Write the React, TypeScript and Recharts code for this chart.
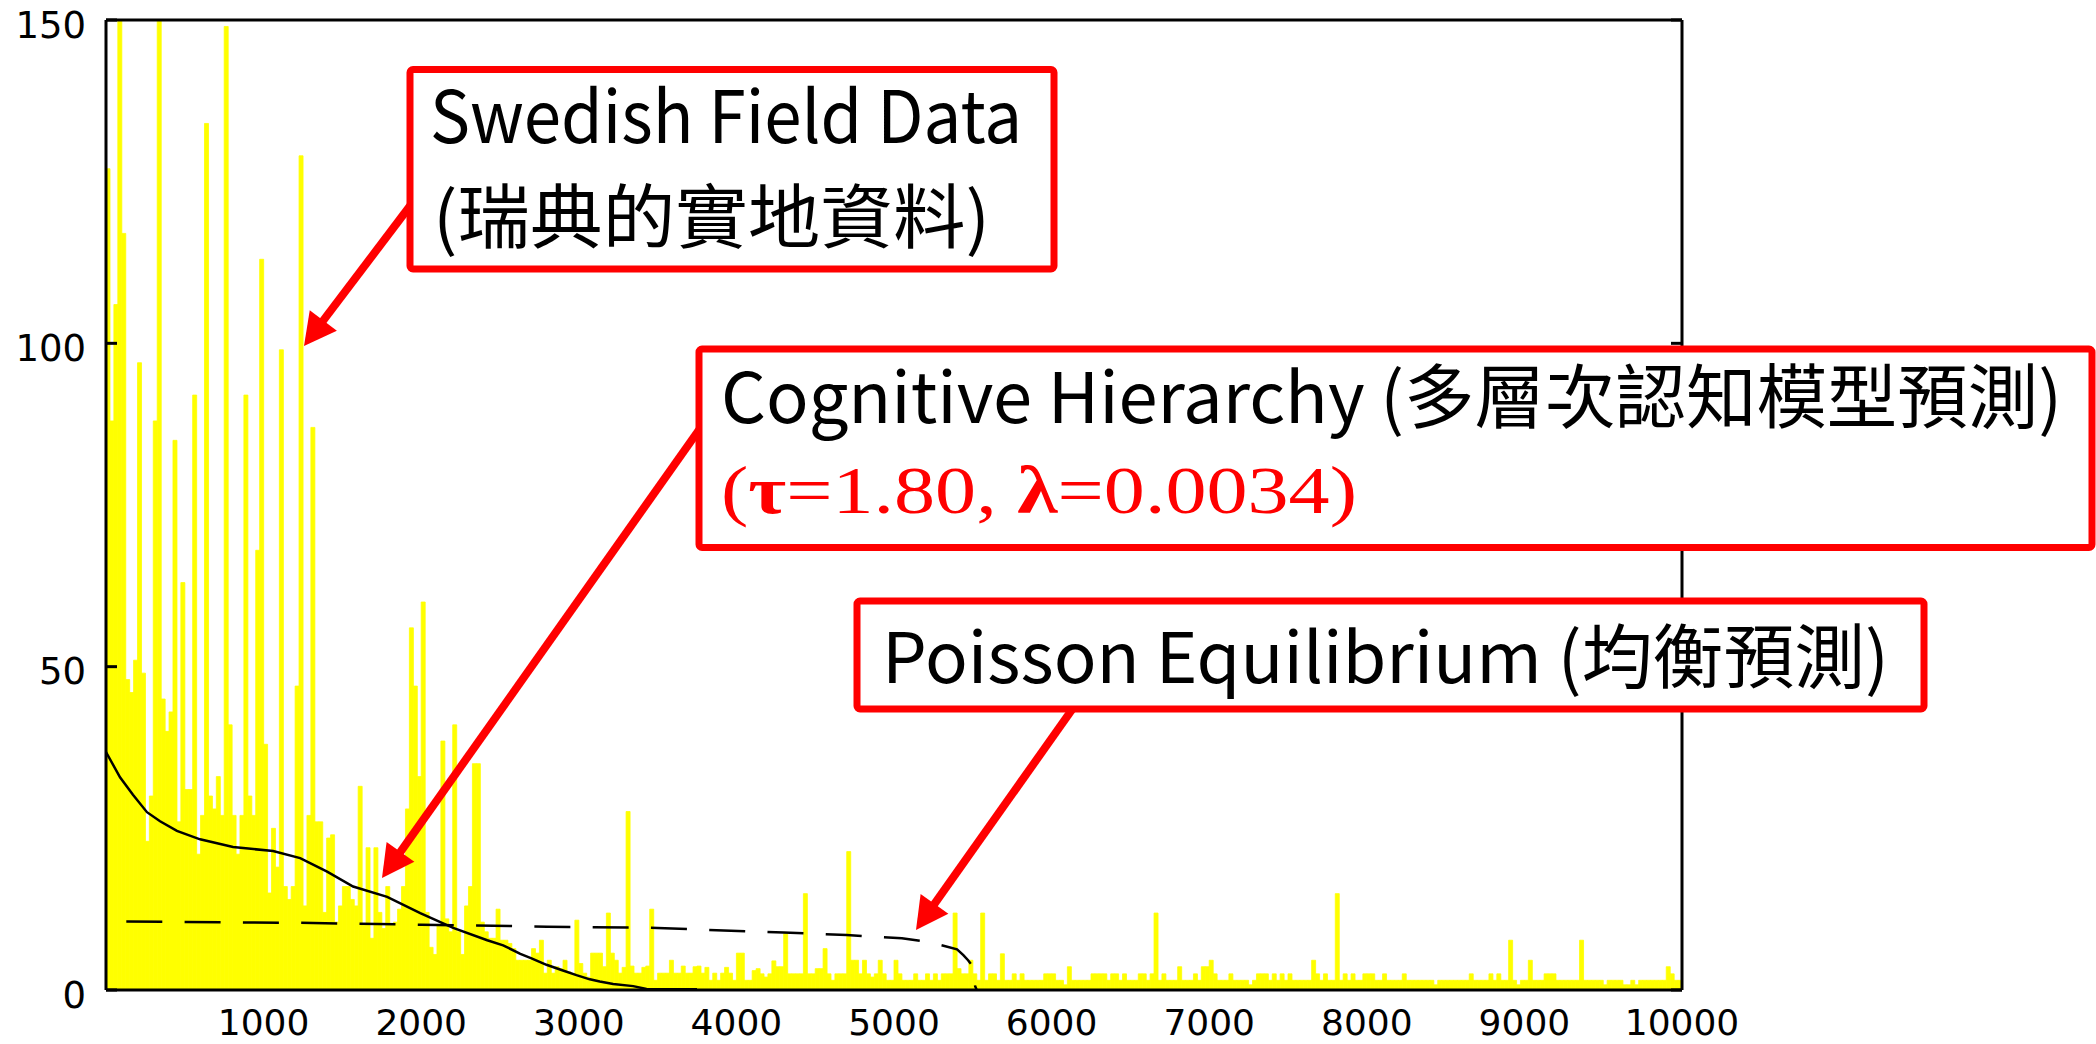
import React from 'react';
import { ComposedChart, Bar, Line, XAxis, YAxis } from 'recharts';

// ---------------- data ----------------
const BIN_WIDTH = 25;

// Swedish field data: count per 25-wide bin, 0 .. 10000
const fieldCounts: number[] = [
  127, 88, 106, 150, 117, 48, 46, 51, 97, 49,
  23, 30, 88, 150, 45, 40, 43, 85, 26, 63,
  31, 31, 92, 21, 27, 134, 30, 28, 33, 27,
  149, 41, 27, 21, 27, 92, 30, 27, 68, 113,
  38, 15, 25, 19, 99, 16, 14, 16, 47, 129,
  13, 27, 87, 26, 26, 12, 23.5, 24, 10.5, 13,
  16, 16, 14, 13, 31.5, 10, 22, 8, 22, 12,
  9.5, 16, 10, 10.5, 12.5, 16, 28, 56, 47, 33,
  60, 12, 6.6, 5.5, 10, 38.5, 11, 9, 41, 9,
  5.5, 13, 16, 35, 35, 10.5, 9, 8, 8, 12.5,
  7.7, 7.7, 7.2, 6.4, 4.6, 4.6, 4.6, 4.6, 6.4, 5.7,
  7.7, 2.6, 4.6, 2.6, 3.6, 3.3, 4.6, 2.8, 2.4, 10.8,
  4.1, 2.6, 2, 5.7, 5.7, 5.7, 3.6, 11.9, 5.7, 4.6,
  2.6, 3.5, 27.6, 3.7, 2.6, 2.6, 3.5, 3.7, 12.5, 1.5,
  2.6, 2.6, 2.6, 4.6, 2.6, 2.6, 3.7, 2.6, 2.6, 3.6,
  3.7, 2.6, 3.5, 1.5, 2.6, 1.5, 2.6, 3.5, 2.6, 1.5,
  5.7, 5.7, 1.5, 1.5, 3, 3.3, 2.5, 2, 2.5, 4.5,
  3.6, 3.6, 8.7, 2.5, 2.5, 2.5, 2.5, 14.9, 2.5, 2.5,
  3.3, 3.3, 6.4, 2.5, 1.5, 2.5, 2.5, 2.5, 21.4, 4.6,
  4.6, 2.5, 4.6, 2.5, 2, 2.5, 4.6, 2.5, 1.5, 1.5,
  4.6, 2.5, 1.5, 1.5, 1.5, 2.5, 1.5, 1.5, 2.5, 1.5,
  2.5, 1.5, 2.5, 2.5, 2.5, 11.9, 3.3, 2.5, 2.5, 4.6,
  2.5, 1.5, 11.9, 1.5, 2.5, 2.5, 1.5, 5.6, 1.5, 1.5,
  2.5, 1.5, 2.5, 1.5, 1.5, 1.5, 1.5, 1.5, 2.5, 2.5,
  2.5, 1.5, 1.5, 0.8, 3.6, 1.5, 1.5, 1.5, 1.5, 1.5,
  2.5, 2.5, 2.5, 2.5, 1.5, 2.5, 2.5, 1.5, 2.5, 1.5,
  1.5, 1.5, 2.5, 2.5, 1.5, 2.5, 11.9, 1.5, 2.5, 1.5,
  1.5, 1.5, 3.6, 1.5, 1.5, 1.5, 2.5, 1.5, 3.6, 3.6,
  4.6, 2.5, 1.5, 1.5, 1.5, 2.5, 1.5, 1.5, 1.5, 1.5,
  0.8, 1.5, 2.5, 2.5, 2.5, 1.5, 2.5, 1.5, 2.5, 1.5,
  2.5, 1.5, 1.5, 1.5, 1.5, 1.5, 4.6, 2.5, 1.5, 2.5,
  1.5, 1.5, 14.9, 1.5, 2.5, 1.5, 2.5, 1.5, 1.5, 2.5,
  2.5, 2.5, 1.5, 1.5, 2.5, 1.5, 1.5, 1.5, 1.5, 2.5,
  1.5, 1.5, 1.5, 1.5, 1.5, 1.5, 1.5, 0.8, 1.5, 1.5,
  1.5, 1.5, 1.5, 1.5, 1.5, 1.5, 2.5, 1.5, 1.5, 1.5,
  1.5, 2.5, 1.5, 2.5, 1.5, 1.5, 7.7, 1.5, 0.8, 1.5,
  1.5, 4.6, 1.5, 1.5, 1.5, 2.5, 2.5, 2.5, 1.5, 1.5,
  1.5, 1.5, 1.5, 1.5, 7.7, 1.5, 1.5, 1.5, 1.5, 1.5,
  0.8, 1.5, 1.5, 1.5, 1.5, 0.8, 0.8, 1.5, 0.8, 1.5,
  1.5, 1.5, 1.5, 1.5, 1.5, 1.5, 3.6, 2.5, 1.5, 1.5,
];

// Cognitive hierarchy prediction (solid line)
const hierarchyX = [0, 89, 171, 260, 343, 450, 597, 806, 1060, 1232, 1403, 1568, 1784, 1994, 2203, 2419, 2520, 2629, 2700, 2795, 2890, 2985, 3070, 3133, 3218, 3345, 3430, 3750];
const hierarchyY = [36.8, 32.9, 30.2, 27.5, 26.1, 24.6, 23.3, 22.1, 21.5, 20.4, 18.3, 16.0, 14.4, 11.9, 9.6, 7.7, 6.9, 5.6, 4.9, 3.9, 3.1, 2.3, 1.65, 1.3, 0.93, 0.6, 0.15, 0.1];

// Poisson equilibrium prediction (dashed line)
const poissonX = [0, 1200, 2000, 2800, 3500, 3800, 4300, 4700, 5050, 5200, 5320, 5400, 5440, 5470, 5495, 5515, 5525];
const poissonY = [10.6, 10.4, 10.1, 9.8, 9.6, 9.3, 8.9, 8.5, 8.0, 7.5, 6.8, 6.3, 5.4, 4.6, 3.8, 0.6, 0];

const xTickValues = [1000, 2000, 3000, 4000, 5000, 6000, 7000, 8000, 9000, 10000];
const yTickValues = [0, 50, 100, 150];

const histogram = fieldCounts.map((v, i) => ({ bin: i * BIN_WIDTH + BIN_WIDTH / 2, v }));
const hierarchy = hierarchyX.map((x, i) => ({ x, y: hierarchyY[i] }));
const poisson = poissonX.map((x, i) => ({ x, y: poissonY[i] }));

// ---------------- layout ----------------
const W = 2096;
const H = 1044;
const TICK_FONT = "'DejaVu Sans', 'Liberation Sans', sans-serif";
const ANNO_FONT = "'Noto Sans CJK TC', 'Noto Sans', sans-serif";
const SERIF_FONT = "'Liberation Serif', 'DejaVu Serif', serif";
const RED = '#ff0000';
const YELLOW = '#ffff00';

const LeftTick = (props: any) => {
  const { x, y, payload } = props;
  return (
    <g>
      <text x={x} y={y + 17.5} textAnchor="end" fontFamily={TICK_FONT} fontSize={37} fill="#000">
        {payload.value}
      </text>
      <line x1={x + 20} x2={x + 31} y1={y} y2={y} stroke="#000" strokeWidth={3} />
    </g>
  );
};

const BottomTick = (props: any) => {
  const { x, y, payload } = props;
  return (
    <text x={x} y={y + 45} textAnchor="middle" fontFamily={TICK_FONT} fontSize={36} fill="#000">
      {payload.value}
    </text>
  );
};

const TopTick = (props: any) => {
  const { x, y } = props;
  return <line x1={x} x2={x} y1={y} y2={y + 11} stroke="#000" strokeWidth={3} />;
};

const RightTick = (props: any) => {
  const { x, y } = props;
  return <line x1={x - 11} x2={x} y1={y} y2={y} stroke="#000" strokeWidth={3} />;
};

function Arrow({ from, to }: { from: [number, number]; to: [number, number] }) {
  const dx = to[0] - from[0];
  const dy = to[1] - from[1];
  const len = Math.hypot(dx, dy);
  const ux = dx / len;
  const uy = dy / len;
  const L = 32;
  const HW = 17;
  const bx = to[0] - ux * L;
  const by = to[1] - uy * L;
  const px = -uy;
  const py = ux;
  const pts = `${to[0]},${to[1]} ${bx + px * HW},${by + py * HW} ${bx - px * HW},${by - py * HW}`;
  return (
    <g>
      <line x1={from[0]} y1={from[1]} x2={bx + ux * 4} y2={by + uy * 4} stroke={RED} strokeWidth={8} />
      <polygon points={pts} fill={RED} />
    </g>
  );
}

const axisLineStyle = { stroke: '#000', strokeWidth: 3 };

export default function App() {
  return (
    <div style={{ position: 'absolute', left: 0, top: 0, width: W, height: H, background: '#fff' }}>
      <ComposedChart
        width={W}
        height={H}
        data={histogram}
        margin={{ top: 19, right: 413, bottom: 14, left: 6 }}
        barCategoryGap={0}
        barGap={0}
      >
        <XAxis
          dataKey="x"
          type="number"
          domain={[0, 10000]}
          ticks={xTickValues}
          interval={0}
          allowDataOverflow
          height={40}
          tickSize={0}
          tickMargin={0}
          tick={BottomTick}
          axisLine={axisLineStyle}
          tickLine={false}
        />
        <XAxis xAxisId="bins" dataKey="bin" type="category" hide />
        <XAxis
          xAxisId="top"
          orientation="top"
          type="number"
          domain={[0, 10000]}
          ticks={xTickValues}
          interval={0}
          allowDataOverflow
          height={1}
          tickSize={0}
          tickMargin={0}
          tick={TopTick}
          axisLine={axisLineStyle}
          tickLine={false}
        />
        <YAxis
          type="number"
          domain={[0, 150]}
          ticks={yTickValues}
          interval={0}
          allowDataOverflow
          width={100}
          tickSize={0}
          tickMargin={20}
          tick={LeftTick}
          axisLine={axisLineStyle}
          tickLine={false}
        />
        <YAxis
          yAxisId="right"
          orientation="right"
          type="number"
          domain={[0, 150]}
          ticks={yTickValues}
          interval={0}
          allowDataOverflow
          width={1}
          tickSize={0}
          tickMargin={0}
          tick={RightTick}
          axisLine={axisLineStyle}
          tickLine={false}
        />
        <Bar
          xAxisId="bins"
          dataKey="v"
          fill={YELLOW}
          stroke={YELLOW}
          strokeWidth={0.8}
          isAnimationActive={false}
        />
        <Line
          data={hierarchy}
          dataKey="y"
          type="linear"
          stroke="#000"
          strokeWidth={2.5}
          dot={false}
          activeDot={false}
          isAnimationActive={false}
        />
        <Line
          data={poisson}
          dataKey="y"
          type="linear"
          stroke="#000"
          strokeWidth={2.5}
          strokeDasharray="36 22.3"
          strokeDashoffset={38}
          dot={false}
          activeDot={false}
          isAnimationActive={false}
        />
      </ComposedChart>

      <svg
        width={W}
        height={H}
        style={{ position: 'absolute', left: 0, top: 0, pointerEvents: 'none' }}
      >
        <Arrow from={[416, 198]} to={[304, 346]} />
        <Arrow from={[706, 420]} to={[382, 878]} />
        <Arrow from={[1076, 704]} to={[916, 930]} />

        <rect x={410} y={69.5} width={644} height={199.5} rx={3} fill="#fff" stroke={RED} strokeWidth={7} />
        <text x={430} y={143} fontFamily={ANNO_FONT} fontSize={72} fill="#000" textLength={592} lengthAdjust="spacingAndGlyphs">
          Swedish Field Data
        </text>
        <text x={433} y={243} fontFamily={ANNO_FONT} fontSize={70} fill="#000" textLength={557} lengthAdjust="spacingAndGlyphs">
          (瑞典的實地資料)
        </text>

        <rect x={699} y={349} width={1393} height={198.5} rx={3} fill="#fff" stroke={RED} strokeWidth={7} />
        <text x={721} y={423} fontFamily={ANNO_FONT} fontSize={70} fill="#000" textLength={1341} lengthAdjust="spacingAndGlyphs">
          Cognitive Hierarchy (多層次認知模型預測)
        </text>
        <text x={721} y={513} fontFamily={SERIF_FONT} fontSize={68} fill={RED} textLength={636} lengthAdjust="spacingAndGlyphs">
          (<tspan fontWeight="bold">τ</tspan>=1.80, <tspan fontWeight="bold">λ</tspan>=0.0034)
        </text>

        <rect x={857} y={601} width={1067} height={108} rx={3} fill="#fff" stroke={RED} strokeWidth={7} />
        <text x={882} y={683} fontFamily={ANNO_FONT} fontSize={70} fill="#000" textLength={1007} lengthAdjust="spacingAndGlyphs">
          Poisson Equilibrium (均衡預測)
        </text>
      </svg>
    </div>
  );
}
